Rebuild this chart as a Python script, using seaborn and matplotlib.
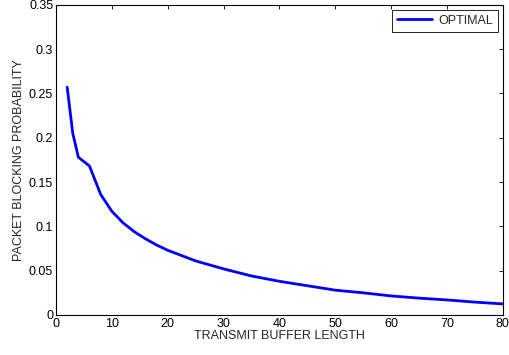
import matplotlib
matplotlib.use("Agg")
import matplotlib.pyplot as plt
import seaborn as sns
import pandas as pd

buffer_length = [2, 3, 4, 6, 8, 10, 12, 14, 16, 18, 20, 25, 30, 35, 40, 45, 50, 55, 60, 65, 70, 75, 80]
blocking_prob = [0.257, 0.205, 0.178, 0.168, 0.136, 0.117, 0.104, 0.094, 0.086, 0.079, 0.073,
                 0.061, 0.052, 0.044, 0.038, 0.033, 0.028, 0.025, 0.0215, 0.019, 0.017, 0.0145, 0.0125]
series_name = "OPTIMAL"
x_ticks = [0, 10, 20, 30, 40, 50, 60, 70, 80]
y_ticks = [0, 0.05, 0.1, 0.15, 0.2, 0.25, 0.3, 0.35]
y_tick_labels = ["0", "0.05", "0.1", "0.15", "0.2", "0.25", "0.3", "0.35"]

sns.set_style("white")
plt.rcParams['font.family'] = ['Liberation Sans', 'DejaVu Sans']

df = pd.DataFrame({"x": buffer_length, "y": blocking_prob, "s": series_name})

fig = plt.figure(figsize=(5.09, 3.55), dpi=100)
ax = fig.add_axes([0.110, 0.1127, 0.878, 0.874])
sns.lineplot(data=df, x="x", y="y", hue="s", palette=["#0000ff"], linewidth=2, ax=ax)

ax.set_xlim(0, 80)
ax.set_ylim(0, 0.35)
ax.set_xticks(x_ticks)
ax.set_xticklabels([str(t) for t in x_ticks])
ax.set_yticks(y_ticks)
ax.set_yticklabels(y_tick_labels)
ax.tick_params(direction="in", length=3, width=0.6, top=True, right=True,
               labelsize=9, colors="black", pad=2)
for s in ax.spines.values():
    s.set_visible(True)
    s.set_color("black")
    s.set_linewidth(0.8)
ax.set_xlabel("TRANSMIT BUFFER LENGTH", fontsize=9, labelpad=0)
ax.set_ylabel("PACKET BLOCKING PROBABILITY", fontsize=9, labelpad=3)

leg = ax.legend(loc="upper right", fontsize=9, frameon=True, fancybox=False,
                edgecolor="black", framealpha=1, handlelength=2.8,
                borderpad=0.4, handletextpad=0.5, borderaxespad=0.4)
leg.get_frame().set_linewidth(0.6)
leg.set_title(None)

fig.savefig("out.png", dpi=100)
